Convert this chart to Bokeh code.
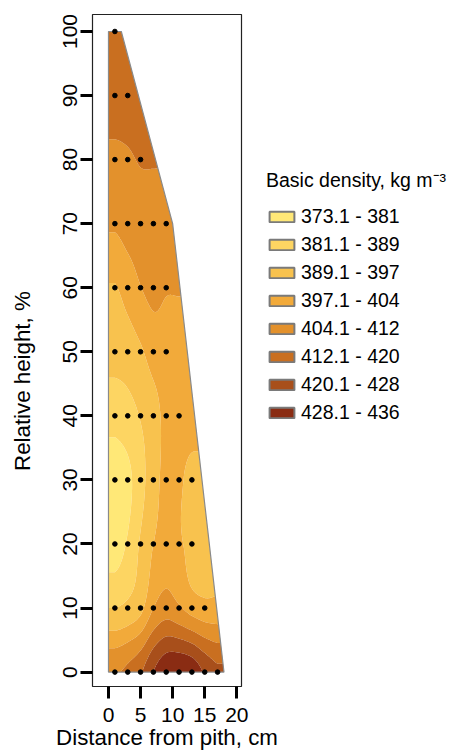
import math
import numpy as np
from bokeh.plotting import figure
from bokeh.layouts import row
from bokeh.models import (Range1d, FixedTicker, Legend, LegendItem, Label,
                          ColumnDataSource)
from bokeh.embed import file_html
from bokeh.resources import INLINE

# ---------------- data ----------------
heights = [0, 10, 20, 30, 40, 50, 60, 70, 80, 90, 100]          # relative height, %
radial_positions = [1, 3, 5, 7, 9, 11, 13, 15, 17]               # distance from pith, cm
# basic density (kg m-3) at each sampling point, pith outward, one list per height
density_h0 = [411, 414, 419, 428, 434.5, 435.8, 434, 427, 422]
density_h10 = [389, 391, 395, 404, 408, 405, 401, 399]
density_h20 = [377, 382, 390, 397, 400, 398, 395]
density_h30 = [376, 379, 386, 394, 399, 398, 395]
density_h40 = [384, 386, 389.5, 394, 399, 400]
density_h50 = [392, 393, 396, 400, 401]
density_h60 = [396.5, 400, 403.8, 406, 404.5]
density_h70 = [405, 407, 408, 409, 408]
density_h80 = [410, 411, 412.5]
density_h90 = [416, 416]
density_h100 = [417]
density_rows = [density_h0, density_h10, density_h20, density_h30, density_h40,
                density_h50, density_h60, density_h70, density_h80, density_h90,
                density_h100]

# stem profile (outer radius at height)
stem_height = [0, 70, 100]
stem_radius = [18, 10, 2]

levels = [373, 381, 389, 397, 404, 412, 420, 428, 436]
class_labels = ["373.1 - 381", "381.1 - 389", "389.1 - 397", "397.1 - 404",
                "404.1 - 412", "412.1 - 420", "420.1 - 428", "428.1 - 436"]
class_colors = ["#FFE877", "#FDD562", "#F8C24E", "#F2AA3A",
                "#E3912C", "#C96F20", "#A84F1B", "#8A2C13"]

x_ticks = [0, 5, 10, 15, 20]
y_ticks = [0, 10, 20, 30, 40, 50, 60, 70, 80, 90, 100]

FONT = "Liberation Sans"
TITLE_SIZE = "22.3px"

# ------------- surface (smooth interpolation between sampling points) -------------
def catmull_rom(vals, c0, step, t):
    vals = np.asarray(vals, dtype=float)
    n = vals.shape[0]
    u = np.clip((np.asarray(t) - c0) / step, 0, n - 1)
    i = np.clip(np.floor(u).astype(int), 0, n - 2)
    s = u - i
    p0 = vals[np.clip(i - 1, 0, n - 1)]
    p1 = vals[i]
    p2 = vals[i + 1]
    p3 = vals[np.clip(i + 2, 0, n - 1)]
    if vals.ndim > 1:
        s = s[:, None]
    return 0.5 * (2 * p1 + (-p0 + p2) * s + (2 * p0 - 5 * p1 + 4 * p2 - p3) * s ** 2
                  + (-p0 + 3 * p1 - 3 * p2 + p3) * s ** 3)

ncol = len(radial_positions)
coarse = np.array([row_ + [row_[-1]] * (ncol - len(row_)) for row_ in density_rows], dtype=float)
fx = np.linspace(0, max(stem_radius), 181)
fy = np.linspace(min(stem_height), max(stem_height), 401)
rows_fine = np.array([catmull_rom(r, radial_positions[0], 2.0, fx) for r in coarse])
Z = catmull_rom(rows_fine, heights[0], 10.0, fy)
Z = np.clip(Z, levels[0] + 0.3, levels[-1] - 0.3)

# ---------------- y-axis title strip ----------------
TW, TH = 40, 756
pt = figure(width=TW, height=TH, output_backend="svg", toolbar_location=None,
            x_range=Range1d(0, TW), y_range=Range1d(0, TH),
            x_axis_location=None, y_axis_location=None, min_border=0,
            min_border_left=0, min_border_right=0, min_border_top=0, min_border_bottom=0)
pt.grid.visible = False
pt.outline_line_color = None
pt.border_fill_color = "white"
pt.background_fill_color = "white"
pt.add_layout(Label(x=22.3, y=346, text="Relative height, %", angle=math.pi / 2,
                    text_font=FONT, text_font_size=TITLE_SIZE, text_align="center",
                    text_baseline="alphabetic", text_color="black"))

# ---------------- main figure ----------------
p = figure(frame_width=149, frame_height=672, output_backend="svg", toolbar_location=None,
           x_range=Range1d(-2.49, 20.73), y_range=Range1d(-2.25, 102.65),
           min_border_left=92 - TW, min_border_right=10, min_border_top=14,
           min_border_bottom=60)
p.xgrid.visible = False
p.ygrid.visible = False
p.outline_line_color = "#222222"
p.outline_line_width = 1.2
p.background_fill_color = "white"
p.border_fill_color = "white"

cr = p.contour(fx, fy, Z, levels, fill_color=class_colors, line_color=None)
cr.fill_renderer.glyph.line_color = cr.fill_renderer.glyph.fill_color
cr.fill_renderer.glyph.line_width = 0.6

# white outside the stem
top = max(stem_height)
rmax = max(stem_radius)
mask_x = list(stem_radius) + [stem_radius[-1], rmax + 0.6, rmax + 0.6, stem_radius[0]]
mask_y = list(stem_height) + [top + 0.6, top + 0.6, stem_height[0] - 0.4, stem_height[0] - 0.4]
p.patch(mask_x, mask_y, fill_color="white", line_color=None)

# stem outline
out_x = [0] + list(stem_radius) + [0]
out_y = [stem_height[0]] + list(stem_height) + [stem_height[-1]]
p.patch(out_x, out_y, fill_color=None, line_color="#8a8a8a", line_width=1.2)

# sampling points
dx, dy = [], []
for h, row_ in zip(heights, density_rows):
    for j in range(len(row_)):
        dx.append(radial_positions[j])
        dy.append(h)
p.scatter(dx, dy, size=4.6, color="black")

# axes
for ax, ticks in ((p.xaxis[0], x_ticks), (p.yaxis[0], y_ticks)):
    ax.ticker = FixedTicker(ticks=ticks)
    ax.axis_line_color = None
    ax.major_tick_in = 0
    ax.major_tick_out = 12
    ax.major_tick_line_width = 3
    ax.major_tick_line_color = "black"
    ax.minor_tick_line_color = None
    ax.major_label_text_font = FONT
    ax.major_label_text_font_size = "21px"
    ax.major_label_text_color = "black"
p.xaxis[0].major_label_standoff = 9
p.yaxis[0].major_label_standoff = 3
p.yaxis[0].major_label_orientation = "vertical"

p.xaxis[0].axis_label = "Distance from pith, cm"
p.xaxis[0].axis_label_text_font = FONT
p.xaxis[0].axis_label_text_font_size = TITLE_SIZE
p.xaxis[0].axis_label_text_font_style = "normal"
p.xaxis[0].axis_label_text_color = "black"
p.xaxis[0].axis_label_standoff = 0

# legend
nan = float("nan")
leg_src = ColumnDataSource(dict(left=[nan] * 8, right=[nan] * 8, top=[nan] * 8,
                                bottom=[nan] * 8, color=class_colors))
leg_r = p.quad(left="left", right="right", top="top", bottom="bottom", source=leg_src,
               fill_color="color", line_color="#7a7a7a", line_width=2)
items = [LegendItem(label=lab, renderers=[leg_r], index=i) for i, lab in enumerate(class_labels)]
legend = Legend(items=items, location=(25, 262), orientation="vertical",
                title="Basic density, kg m\u207b\u00b3", title_standoff=12,
                title_text_font=FONT, title_text_font_size="19.5px",
                title_text_font_style="normal", title_text_color="black",
                glyph_width=31, glyph_height=13, label_standoff=4, spacing=5,
                label_height=22, padding=0, margin=0,
                label_text_font=FONT, label_text_font_size="19.5px",
                label_text_color="black", border_line_color=None,
                background_fill_alpha=0)
p.add_layout(legend, "right")

layout = row(pt, p)
open("out.html", "w").write(file_html(layout, INLINE))
